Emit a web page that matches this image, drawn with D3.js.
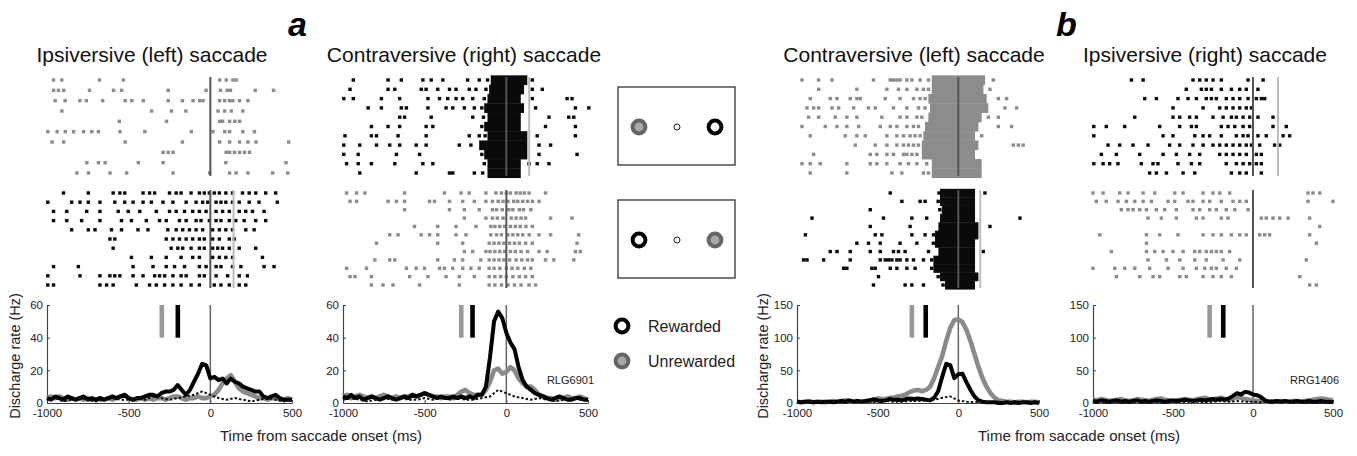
<!DOCTYPE html>
<html>
<head>
<meta charset="utf-8">
<script src="https://cdn.jsdelivr.net/npm/d3@7"></script>
<style>
body { margin: 0; background: #fff; }
svg { display: block; font-family: "Liberation Sans", Arial, sans-serif; }
</style>
</head>
<body>
<svg id="fig" width="1357" height="456"></svg>
<script>
// ---------- data ----------
const xTicks = [-1000, -500, 0, 500];
const yTicksLow = [0, 20, 40, 60];
const yTicksHigh = [0, 50, 100, 150];
const psthTimes = d3.range(-1000, 501, 25);   // sample times of the rate curves (ms)
const dotTimes = d3.range(-1000, 501, 50);    // sample times of the dotted curves (ms)

// panel a, ipsiversive (left)
const p1Black = [3,2,4,3,2,4,3,2,3,4, 2,3,2,3,2,3,4,3,4,5, 3,2,3,3,4,5,5,4,6,7,
  7,8,11,8,5,8,13,18,24,23, 15,16,14,15,12,15,13,12,10,9, 8,7,7,4,3,4,5,3,2,2,2];
const p1Gray = [3,4,3,4,3,2,3,2,3,2, 3,2,2,3,2,3,2,3,4,5, 3,2,2,3,2,3,2,3,3,2,
  3,4,4,3,2,3,3,4,3,3, 4,5,8,12,15,17,13,9,7,6, 5,4,3,3,2,3,3,2,2,3,2];
const p1Dotted = [2,3,1,2,3,2,1,2,3,2, 2,3,2,4,3,2,3,4,5,7, 5,3,2,3,2,1,2,3,2,1,2];
const p1Marks = [-297, -199];   // gray, black target markers
const p1RewardT = 142;
const p1GrayRows = [
  [-960,-909,-679,-533,57,97,138,158],
  [-960,-930,-898,-740,-593,-543,-258,-26,62,103,123,275,387],
  [-950,-889,-799,-759,-659,-521,-481,-410,-258,-171,-106,-65,-45,57,88,118,138,179,230],
  [-909,-360,-238,-150,47,88,128,199],
  [-557,-268,57,75,118,150,179],
  [-995,-938,-888,-837,-776,-726,-685,-553,-401,-116,16,88,118,199,270],
  [-969,-898,-521,-171,57,118,179,230,280,480],
  [-289,-258,-228,97,118,148,179,209,240],
  [-756,-685,-644,-441,-289,95,463],
  [-817,-746,-614,-512,-228,-4,118,158,230,382,474]
];
const p1BlackRows = [
  [-899,-747,-595,-554,-524,-412,-372,-341,-250,-209,-179,-118,-67,-37,-6,24,55,95,136,197,238,278,339,400],
  [-995,-849,-798,-747,-676,-585,-524,-473,-412,-361,-290,-229,-148,-87,-47,-16,35,65,95,136,177,238,298,410],
  [-960,-879,-757,-676,-564,-503,-432,-331,-250,-209,-158,-108,-67,-26,35,75,116,177,217,258,329],
  [-960,-879,-788,-676,-544,-483,-392,-311,-270,-189,-148,-87,-57,-6,35,65,116,156,207,278,339],
  [-849,-747,-706,-605,-544,-443,-382,-260,-209,-169,-128,-87,-47,14,55,95,136,217,268],
  [-615,-585,-270,-229,-189,-148,-108,-67,-37,14,55,116,146],
  [-595,-240,-199,-169,-118,-67,-37,14,45,75,116,177,278],
  [-483,-361,-270,-179,-108,-67,14,55,95,136,319],
  [-960,-808,-473,-351,-270,-219,-158,-67,-26,35,65,136,187,329,390],
  [-995,-798,-676,-615,-585,-554,-473,-412,-341,-311,-280,-229,-179,-148,-67,-37,35,106,177,227],
  [-995,-960,-676,-635,-595,-453,-372,-331,-280,-229,-179,-118,-67,24,65,116,177,217]
];

// panel a, contraversive (right)
const p2Black = [4,3,5,3,4,2,3,4,3,2, 3,4,3,2,3,4,3,5,4,5, 6,5,4,3,4,3,3,4,3,4,
  3,4,3,5,5,10,28,50,56,52, 43,37,33,22,14,10,8,6,5,4,3, 2,3,4,3,2,2,3,3,2,2];
const p2Gray = [4,5,3,4,5,4,3,4,3,4, 5,4,3,4,3,4,4,5,4,5, 6,5,4,4,3,4,4,3,5,7,
  8,6,5,5,5,8,13,20,21,18, 19,22,20,15,12,10,10,8,5,4,3, 3,2,3,3,4,3,3,4,3,2];
const p2Dotted = [2,3,2,1,2,3,2,3,2,2, 3,2,3,2,3,2,2,3,4,8, 6,4,3,2,3,2,1,2,3,2,2];
const p2Marks = [-276, -207];
const p2RewardT = 140;
const p2BlackRows = [
  [-937,-724,-643,-511,-460,-389,-237,-166,-115,159],
  [-957,-724,-683,-521,-491,-420,-348,-308,-227,-186,-125,159,220],
  [-995,-937,-765,-653,-480,-409,-359,-308,-267,-206,-135,159,372,402],
  [-846,-765,-643,-612,-480,-369,-328,-257,-196,-150,179,423,505],
  [-653,-623,-460,-206,-140,261,382,413],
  [-826,-724,-653,-491,-450,-150,240,423],
  [-988,-826,-795,-663,-491,-227,-166,-130,189,423],
  [-995,-897,-795,-714,-653,-552,-491,-288,-217,200,271],
  [-995,-907,-673,-531,-150,200,433],
  [-978,-907,-826,-683,-511,-450,-135,139,189,261],
  [-897,-552,-348,-328,-196,-145,57]
];
const p2BlackBands = [[-85,118],[-95,98],[-105,78],[-125,98],[-105,78],[-125,78],
  [-105,118],[-156,118],[-125,118],[-105,78],[-105,78]];
const p2GrayRows = [
  [-978,-917,-866,-623,-379,-277,-227,-125,-64,-30,0,25,60,85,110,139,240],
  [-957,-917,-724,-673,-623,-470,-440,-348,-267,-196,-125,-85,-50,-20,10,45,70,100,130,160,200],
  [-623,-348,-257,-166,-85,-60,-25,15,40,80,105,150],
  [-257,-125,-85,-55,-20,30,60,90,118,271,402],
  [-562,-420,-308,-186,-95,-70,-40,-10,25,55,85,120,159],
  [-714,-663,-521,-470,-420,-308,-247,-95,-60,-30,10,40,70,100,140,200,271,443],
  [-795,-420,-267,-105,-75,-45,-15,20,50,80,118,159,433],
  [-257,-206,-125,-100,-70,-40,-10,25,55,90,130,200,250,423,453],
  [-805,-714,-683,-420,-318,-267,-156,-105,-75,-45,-15,20,60,95,130,159,240,291,413],
  [-978,-856,-612,-552,-501,-409,-379,-328,-267,-217,-166,-105,-75,-40,0,35,70,110,150],
  [-957,-927,-826,-592,-480,-369,-288,-196,-105,-70,-35,0,40,80,118,159],
  [-826,-755,-694,-531,-288,-105,-70,-30,10,50,90,139,179]
];

// panel b, contraversive (left)
const p3Black = [2,1,2,2,1,2,1,2,2,1, 2,3,2,4,2,3,2,3,4,6, 4,3,4,6,5,5,4,6,7,6,
  7,6,5,4,8,18,40,60,58,38, 44,45,32,20,10,4,2,1,1,1,0, 0,1,0,1,0,1,1,0,1,0];
const p3Gray = [2,1,2,3,1,2,2,1,2,3, 2,3,4,3,2,3,2,3,4,3, 7,6,6,8,8,10,11,13,17,19,
  20,18,20,25,38,55,72,95,115,127, 128,124,112,95,75,55,38,25,15,8,4, 3,2,2,1,2,2,1,2,2,1];
const p3Dotted = [1,2,1,2,1,2,2,1,2,2, 2,3,2,2,3,3,4,5,8,10, 4,2,1,2,1,2,1,2,1,2,1];
const p3Marks = [-288, -202];
const p3RewardT = 136;
const p3GrayRows = [
  [-969,-866,-783,-526,-422,-402,-381,-361,-319,-288,-237,-185,217],
  [-866,-629,-443,-371,-319,-257,-216,-185,196],
  [-918,-794,-752,-670,-629,-608,-453,-361,-278,-237,-206,248,299],
  [-938,-897,-866,-783,-742,-649,-557,-515,-402,-319,-247,-206,289,361],
  [-928,-866,-763,-691,-629,-474,-361,-319,-257,-226,186,248],
  [-969,-825,-752,-691,-618,-484,-422,-381,-319,-278,-247,248,330],
  [-918,-701,-629,-577,-443,-381,-340,-299,-268,-237,145],
  [-639,-515,-443,-381,-340,-309,-278,-247,341,372,402],
  [-897,-546,-505,-443,-402,-340,-319,-288,-257],
  [-969,-918,-856,-691,-546,-505,-443,-361,-309,-257,-196],
  [-918,-691,-412,-350,-216,-185]
];
const p3GrayBands = [[-154,155],[-154,145],[-175,165],[-165,175],[-175,134],[-196,114],
  [-206,93],[-216,114],[-216,93],[-154,134],[-154,134]];
const p3BlackRows = [
  [-422,-120,165],
  [-350,-237,-206,-125],
  [-546,-115],
  [-907,-464,-288,-196,382],
  [-546,-299,196],
  [-948,-515,-474,-288,-206,-154],
  [-629,-557,-484,-361,-257,-155],
  [-794,-752,-670,-546,-484,-402,-371,-330,-185,155],
  [-959,-938,-835,-670,-484,-453,-433,-412,-381,-361,-319,-278,-216,-165],
  [-711,-691,-536,-515,-422,-381,-319,-268,-165],
  [-495,-125],
  [-526,-330,-288,-216,-95]
];
const p3BlackBands = [[-103,93],[-103,93],[-92,93],[-103,93],[-113,114],[-134,114],
  [-134,93],[-113,93],[-144,93],[-144,93],[-103,114],[-72,93]];

// panel b, ipsiversive (right)
const p4Black = [3,2,4,3,2,3,4,2,3,2, 3,4,2,3,2,3,4,3,2,3, 4,3,4,5,4,3,4,5,4,5,
  6,5,6,5,7,11,15,13,17,16, 13,12,9,4,2,2,3,2,3,2,2, 3,2,2,3,2,2,3,2,2,1];
const p4Gray = [5,4,6,5,3,4,5,6,4,3, 4,6,5,4,3,5,6,7,5,4, 3,4,5,6,5,4,6,7,8,6,
  5,7,8,6,5,7,9,8,6,5, 4,3,3,2,2,3,2,3,2,2,3, 3,2,3,4,5,6,7,6,5,4];
const p4Dotted = [2,1,2,1,2,2,1,2,1,2, 2,1,2,2,1,2,3,2,3,2, 2,1,2,1,1,2,1,2,1,2,1];
const p4Marks = [-271, -186];
const p4RewardT = 156;
const p4BlackRows = [
  [-760,-687,-375,-333,-292,-250,-198,-31,63],
  [-417,-323,-292,-260,-198,-135,-83,-42,31],
  [-677,-604,-469,-406,-354,-292,-260,-229,-167,-125,-83,-31,21,52,73],
  [-500,-312,-208,-167,-125,-83,-42,-10],
  [-739,-500,-458,-396,-354,-250,-187,-135,-104,-62,-21,31,125],
  [-995,-917,-802,-583,-458,-385,-354,-198,-156,-114,-62,-21,125,208],
  [-995,-562,-500,-364,-312,-271,-198,-104,-62,-31,31,83,188,229],
  [-906,-833,-750,-656,-521,-458,-375,-312,-250,-208,-167,-125,-83,-42,-10,42,135,167],
  [-948,-854,-708,-562,-479,-396,-333,-208,-167,-125,-83,-42,21,52],
  [-995,-937,-896,-844,-698,-625,-594,-469,-385,-333,-167,-104,-62,-21,21,52],
  [-646,-604,-541,-437,-364,-135,-83,-42,52]
];
const p4GrayRows = [
  [-1000,-937,-833,-781,-687,-614,-489,-437,-312,-250,-208,-146,344,375,417],
  [-979,-917,-844,-791,-739,-687,-635,-531,-489,-406,-375,-312,-271,-198,-125,-83,-42,344,500],
  [-823,-781,-750,-708,-666,-604,-552,-479,-375,-333,-271,-229,-167,-114,-31],
  [-656,-573,-479,-354,-312,-198,-156,52,83,125,167,219,354],
  [417],
  [-958,-666,-583,-469,-312,-250,-198,-135,-83,-42,42,73,104,354],
  [-666,396],
  [-885,-666,-614,-562,-500,-437,-364,-333,-292,-260,-229,-198,-146],
  [-656,-541,-458,-364,-292,-187,-83,333],
  [-1000,-864,-802,-739,-646,-531,-437,-354,-302,-260,-229,-167,-104],
  [-854,-708,-625,-583,-458,-417,-312,-250,-198,-135,292],
  [354,396]
];

// ---------- layout ----------
const blackC = "#0a0a0a", grayC = "#8c8c8c";
const topBlock = [80, 173], botBlock = [193, 285];
const psthTop = 305, psthBase = 403;
const dot = 3.4;

const panels = [
  { x0: 47, x1: 292, title: "Ipsiversive (left) saccade", titleX: 152, ymax: 60, yTicks: yTicksLow,
    top: { rows: p1GrayRows, bands: null, color: grayC },
    bot: { rows: p1BlackRows, bands: null, color: blackC, reward: p1RewardT },
    black: p1Black, gray: p1Gray, dotted: p1Dotted, marks: p1Marks, yLabelX: 20, cell: null },
  { x0: 343, x1: 588, title: "Contraversive (right) saccade", titleX: 464, ymax: 60, yTicks: yTicksLow,
    top: { rows: p2BlackRows, bands: p2BlackBands, color: blackC, reward: p2RewardT },
    bot: { rows: p2GrayRows, bands: null, color: grayC },
    black: p2Black, gray: p2Gray, dotted: p2Dotted, marks: p2Marks, yLabelX: null, cell: "RLG6901" },
  { x0: 797, x1: 1039, title: "Contraversive (left) saccade", titleX: 914, ymax: 150, yTicks: yTicksHigh,
    top: { rows: p3GrayRows, bands: p3GrayBands, color: grayC },
    bot: { rows: p3BlackRows, bands: p3BlackBands, color: blackC, reward: p3RewardT },
    black: p3Black, gray: p3Gray, dotted: p3Dotted, marks: p3Marks, yLabelX: 768, cell: null },
  { x0: 1093, x1: 1333, title: "Ipsiversive (right) saccade", titleX: 1205, ymax: 150, yTicks: yTicksHigh,
    top: { rows: p4BlackRows, bands: null, color: blackC, reward: p4RewardT },
    bot: { rows: p4GrayRows, bands: null, color: grayC },
    black: p4Black, gray: p4Gray, dotted: p4Dotted, marks: p4Marks, yLabelX: null, cell: "RRG1406" }
];

const svg = d3.select("#fig");

function drawRaster(g, block, span, x) {
  let n = block.rows.length;
  let step = (span[1] - span[0]) / (n - 1);
  let yRow = function(i) { return span[0] + i * step; };

  if (block.bands) {
    g.selectAll(null)
      .data(block.bands)
      .enter()
      .append("rect")
      .attr("x", d => x(d[0]) - dot / 2)
      .attr("y", (d, i) => yRow(i) - step / 2)
      .attr("width", d => x(d[1]) - x(d[0]) + dot)
      .attr("height", step + 0.4)
      .attr("fill", block.color);
  }

  block.rows.forEach(function(row, i) {
    g.selectAll(null)
      .data(row)
      .enter()
      .append("rect")
      .attr("x", d => x(d) - dot / 2)
      .attr("y", yRow(i) - dot / 2)
      .attr("width", dot)
      .attr("height", dot)
      .attr("fill", block.color);
  });

  // saccade onset line
  g.append("line")
    .attr("x1", x(0)).attr("x2", x(0))
    .attr("y1", span[0] - 3).attr("y2", span[1] + 3)
    .attr("stroke", "#555").attr("stroke-width", 2);

  if (block.reward != null) {
    g.append("line")
      .attr("x1", x(block.reward)).attr("x2", x(block.reward))
      .attr("y1", span[0] - 3).attr("y2", span[1] + 3)
      .attr("stroke", "#bdbdbd").attr("stroke-width", 2);
  }
}

panels.forEach(function(p) {
  let g = svg.append("g");
  let x = d3.scaleLinear().domain([-1000, 500]).range([p.x0, p.x1]);
  let y = d3.scaleLinear().domain([0, p.ymax]).range([psthBase, psthTop]);

  g.append("text")
    .attr("x", p.titleX).attr("y", 62)
    .attr("text-anchor", "middle")
    .style("font-size", "21px").style("fill", "#111")
    .text(p.title);

  drawRaster(g, p.top, topBlock, x);
  drawRaster(g, p.bot, botBlock, x);

  // axes
  let ax = g.append("g")
    .attr("transform", "translate(0," + psthBase + ")")
    .call(d3.axisBottom(x).tickValues(xTicks).tickSize(-3).tickSizeOuter(0)
      .tickPadding(6).tickFormat(d => String(d)));
  let ay = g.append("g")
    .attr("transform", "translate(" + p.x0 + ",0)")
    .call(d3.axisLeft(y).tickValues(p.yTicks).tickSize(-3).tickSizeOuter(0)
      .tickPadding(4).tickFormat(d => String(d)));
  [ax, ay].forEach(function(a) {
    a.select(".domain").attr("stroke", "#444").attr("stroke-width", 1.2);
    a.selectAll(".tick line").attr("stroke", "#444");
    a.selectAll("text").style("font-size", "11.5px").style("fill", "#222")
      .style("font-family", "'Liberation Sans', Arial, sans-serif");
  });

  // zero line
  g.append("line")
    .attr("x1", x(0)).attr("x2", x(0))
    .attr("y1", psthTop).attr("y2", psthBase)
    .attr("stroke", "#666").attr("stroke-width", 1.5);

  // target markers: gray then black
  g.selectAll(null)
    .data(p.marks)
    .enter()
    .append("rect")
    .attr("x", d => x(d) - 2.3)
    .attr("y", y(p.ymax))
    .attr("width", 4.6)
    .attr("height", y(p.ymax * 2 / 3) - y(p.ymax))
    .attr("fill", (d, i) => i == 0 ? "#999" : "#000");

  let line = d3.line()
    .x((d, i) => x(psthTimes[i]))
    .y(d => y(d))
    .curve(d3.curveLinear);
  let dotLine = d3.line()
    .x((d, i) => x(dotTimes[i]))
    .y(d => y(d));

  g.append("path").attr("d", line(p.gray))
    .attr("fill", "none").attr("stroke", "#8a8a8a")
    .attr("stroke-width", 4.6).attr("stroke-linejoin", "round");
  g.append("path").attr("d", line(p.black))
    .attr("fill", "none").attr("stroke", "#000")
    .attr("stroke-width", 4).attr("stroke-linejoin", "round");
  g.append("path").attr("d", dotLine(p.dotted))
    .attr("fill", "none").attr("stroke", "#111")
    .attr("stroke-width", 2).attr("stroke-dasharray", "2.5,2");

  if (p.yLabelX != null) {
    g.append("text")
      .attr("transform", "translate(" + p.yLabelX + ",356) rotate(-90)")
      .attr("text-anchor", "middle")
      .style("font-size", "14.5px").style("fill", "#222")
      .text("Discharge rate (Hz)");
  }
  if (p.cell) {
    g.append("text")
      .attr("x", x(500) + 6).attr("y", 384)
      .attr("text-anchor", "end")
      .style("font-size", "11px").style("fill", "#222")
      .text(p.cell);
  }
});

// x labels
svg.append("text").attr("x", 220).attr("y", 441)
  .style("font-size", "15px").style("fill", "#222")
  .text("Time from saccade onset (ms)");
svg.append("text").attr("x", 978).attr("y", 441)
  .style("font-size", "15px").style("fill", "#222")
  .text("Time from saccade onset (ms)");

// panel letters
svg.append("text").attr("x", 288).attr("y", 36)
  .style("font-size", "34px").style("font-weight", "bold").style("font-style", "italic")
  .text("a");
svg.append("text").attr("x", 1056).attr("y", 36)
  .style("font-size", "34px").style("font-weight", "bold").style("font-style", "italic")
  .text("b");

// task diagrams
function ring(g, cx, cy, rewarded) {
  g.append("circle").attr("cx", cx).attr("cy", cy).attr("r", 6.4)
    .attr("fill", rewarded ? "#fff" : "#a9a9a9")
    .attr("stroke", rewarded ? "#000" : "#666")
    .attr("stroke-width", 4);
}
const diag = svg.append("g");
[[87, false], [200, true]].forEach(function(b) {
  let top = b[0], leftRewarded = b[1];
  diag.append("rect").attr("x", 618).attr("y", top).attr("width", 117).attr("height", 78)
    .attr("fill", "none").attr("stroke", "#333").attr("stroke-width", 1.3);
  ring(diag, 639, top + 40, leftRewarded);
  diag.append("circle").attr("cx", 677).attr("cy", top + 40).attr("r", 3)
    .attr("fill", "#fff").attr("stroke", "#222").attr("stroke-width", 1);
  ring(diag, 715, top + 40, !leftRewarded);
});
ring(diag, 622, 326, true);
ring(diag, 622, 361, false);
diag.append("text").attr("x", 648).attr("y", 332)
  .style("font-size", "16px").style("fill", "#222").text("Rewarded");
diag.append("text").attr("x", 648).attr("y", 367)
  .style("font-size", "16px").style("fill", "#222").text("Unrewarded");
</script>
</body>
</html>
